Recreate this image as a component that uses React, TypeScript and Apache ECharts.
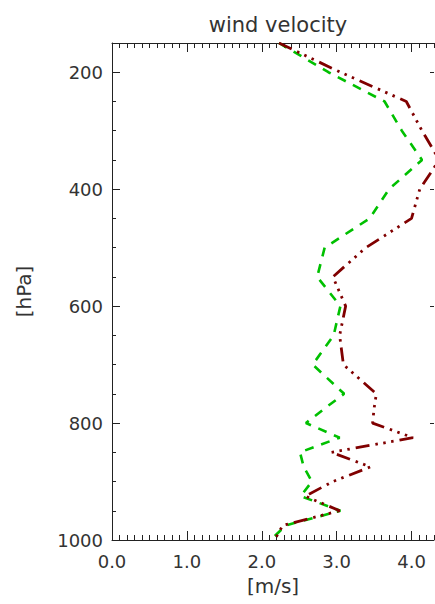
import React, { useEffect, useRef } from "react";
import * as echarts from "echarts";

const pressureLevels = [150, 200, 250, 300, 350, 400, 450, 500, 550, 600, 650, 700, 750, 775, 800, 825, 850, 875, 900, 925, 950, 975, 1000];
const greenSpeed = [2.23, 2.89, 3.64, 3.87, 4.14, 3.70, 3.44, 2.84, 2.74, 3.05, 2.96, 2.68, 3.10, 2.84, 2.59, 3.04, 2.51, 2.56, 2.67, 2.52, 3.05, 2.32, 2.12];
const redSpeed = [2.23, 3.05, 3.93, 4.14, 4.37, 4.11, 4.00, 3.39, 2.95, 3.12, 3.04, 3.09, 3.53, 3.50, 3.48, 4.02, 2.93, 3.45, 2.95, 2.58, 3.04, 2.28, 2.17];
const xMajorTicks = [0, 1, 2, 3, 4];
const yMajorTicks = [200, 400, 600, 800, 1000];

const TEXT = "#333";
const FONT = "DejaVu Sans";

export default function App() {
  const ref = useRef<HTMLDivElement>(null);
  useEffect(() => {
    if (!ref.current) return;
    const chart = echarts.init(ref.current, null, { renderer: "svg" });
    const axisLine = { show: true, onZero: false, lineStyle: { color: "#222", width: 1 } };
    const noLine = { show: false, onZero: false };
    const xBase = { type: "value", min: 0, max: 4.3, splitLine: { show: false } };
    const yBase = { type: "value", min: 150, max: 1000, inverse: true, splitLine: { show: false } };
    const option: any = {
      animation: false,
      backgroundColor: "#fff",
      title: {
        text: "wind velocity",
        left: 273,
        top: 9,
        textAlign: "center",
        textStyle: { fontFamily: FONT, fontSize: 21, fontWeight: "normal", color: TEXT },
      },
      grid: { left: 112, right: 1, top: 43, bottom: 64, containLabel: false, outerBoundsMode: "none" },
      xAxis: [
        {
          ...xBase,
          position: "bottom",
          axisLine,
          axisTick: { show: true, inside: true, length: 9, customValues: xMajorTicks, lineStyle: { color: "#222" } },
          axisLabel: {
            show: true,
            customValues: xMajorTicks,
            formatter: (v: number) => v.toFixed(1),
            margin: 12,
            fontFamily: FONT,
            fontSize: 18,
            color: TEXT,
          },
          name: "[m/s]",
          nameLocation: "middle",
          nameGap: 36,
          nameTextStyle: { fontFamily: FONT, fontSize: 20, color: TEXT },
        },
        {
          ...xBase,
          position: "bottom",
          interval: 0.1,
          axisLine: noLine,
          axisTick: { show: true, inside: true, length: 5, lineStyle: { color: "#222" } },
          axisLabel: { show: false },
        },
        {
          ...xBase,
          position: "top",
          axisLine,
          axisTick: { show: true, inside: true, length: 9, customValues: xMajorTicks, lineStyle: { color: "#222" } },
          axisLabel: { show: false },
        },
        {
          ...xBase,
          position: "top",
          interval: 0.1,
          axisLine: noLine,
          axisTick: { show: true, inside: true, length: 5, lineStyle: { color: "#222" } },
          axisLabel: { show: false },
        },
      ],
      yAxis: [
        {
          ...yBase,
          position: "left",
          axisLine,
          axisTick: { show: true, inside: true, length: 8, customValues: yMajorTicks, lineStyle: { color: "#222" } },
          axisLabel: {
            show: true,
            customValues: yMajorTicks,
            formatter: (v: number) => String(Math.round(v)),
            margin: 9,
            fontFamily: FONT,
            fontSize: 18,
            color: TEXT,
          },
          name: "[hPa]",
          nameLocation: "middle",
          nameRotate: 90,
          nameGap: 78,
          nameTextStyle: { fontFamily: FONT, fontSize: 20, color: TEXT },
        },
        {
          ...yBase,
          position: "left",
          interval: 50,
          axisLine: noLine,
          axisTick: { show: true, inside: true, length: 4, lineStyle: { color: "#222" } },
          axisLabel: { show: false },
        },
        {
          ...yBase,
          position: "right",
          axisLine: noLine,
          axisTick: { show: true, inside: true, length: 4, customValues: yMajorTicks, lineStyle: { color: "#222" } },
          axisLabel: { show: false },
        },
      ],
      series: [
        {
          type: "line",
          name: "green",
          xAxisIndex: 0,
          yAxisIndex: 0,
          data: pressureLevels.map((p, i) => [greenSpeed[i], p]),
          showSymbol: false,
          symbol: "none",
          clip: true,
          lineStyle: { color: "#00c000", width: 2.6, type: [9, 8], cap: "butt" },
        },
        {
          type: "line",
          name: "red",
          xAxisIndex: 0,
          yAxisIndex: 0,
          data: pressureLevels.map((p, i) => [redSpeed[i], p]),
          showSymbol: false,
          symbol: "none",
          clip: true,
          lineStyle: { color: "#800000", width: 2.8, type: [14, 6, 2.5, 5.5, 2.5, 5.5, 2.5, 6], cap: "butt" },
        },
      ],
    };
    chart.setOption(option);
    return () => chart.dispose();
  }, []);
  return <div ref={ref} style={{ width: 435, height: 604, position: "absolute", left: 0, top: 0 }} />;
}
